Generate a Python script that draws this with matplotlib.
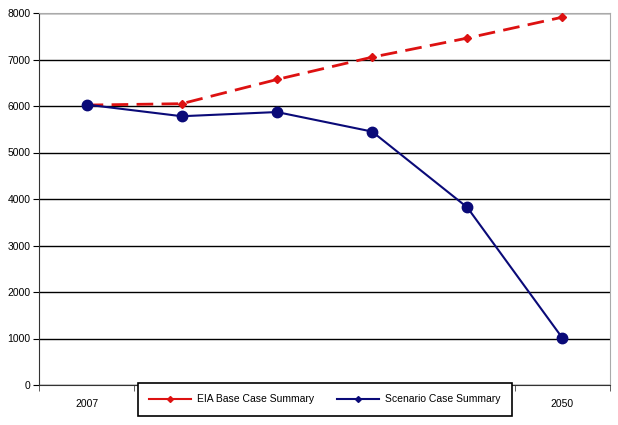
import matplotlib.pyplot as plt
from matplotlib.lines import Line2D

plt.rcParams['font.family'] = ['Liberation Sans', 'DejaVu Sans']

years = ['2007', '', '', '', '', '2050']
eia_base = [6020, 6050, 6570, 7050, 7460, 7910]
scenario = [6030, 5780, 5870, 5450, 3820, 1010]

fig = plt.figure(figsize=(6.18, 4.25), dpi=100)
ax = fig.add_axes([39 / 618, 40 / 425, 571 / 618, 372 / 425])

x = list(range(len(years)))
ax.plot(x, eia_base, color='#dd1111', linestyle=(0, (6, 3)), linewidth=2,
        marker='D', markersize=4, zorder=3)
ax.plot(x, scenario, color='#0a0a78', linewidth=1.5,
        marker='o', markersize=7.5, zorder=4)

ax.set_xlim(-0.5, len(years) - 0.5)
ax.set_ylim(0, 8000)
ax.set_yticks(range(0, 8001, 1000))
ax.set_xticks(x)
ax.set_xticklabels(years)
ax.set_xticks([i + 0.5 for i in range(-1, len(years))], minor=True)
ax.tick_params(axis='x', which='major', length=0, pad=10, labelsize=7.5)
ax.tick_params(axis='x', which='minor', length=4, direction='out', color='#444444')
ax.tick_params(axis='y', length=4, direction='out', labelsize=7.5, pad=2)

ax.yaxis.grid(True, color='black', linewidth=1)
ax.set_axisbelow(True)
for side in ['top', 'right']:
    ax.spines[side].set_color('#aaaaaa')
ax.spines['left'].set_color('#333333')
ax.spines['bottom'].set_color('#333333')

handles = [
    Line2D([], [], color='#dd1111', linewidth=1.5, marker='D', markersize=3),
    Line2D([], [], color='#0a0a78', linewidth=1.5, marker='D', markersize=3),
]
leg = fig.legend(handles, ['EIA Base Case Summary', 'Scenario Case Summary'],
                 loc='lower center', bbox_to_anchor=(325 / 618, 4 / 425),
                 ncol=2, fontsize=7.5, frameon=True, fancybox=False,
                 edgecolor='black', framealpha=1, columnspacing=2.2,
                 handlelength=4, handletextpad=0.6, borderpad=1.1)
leg.get_frame().set_linewidth(1.2)

fig.savefig('out.png', dpi=100)
